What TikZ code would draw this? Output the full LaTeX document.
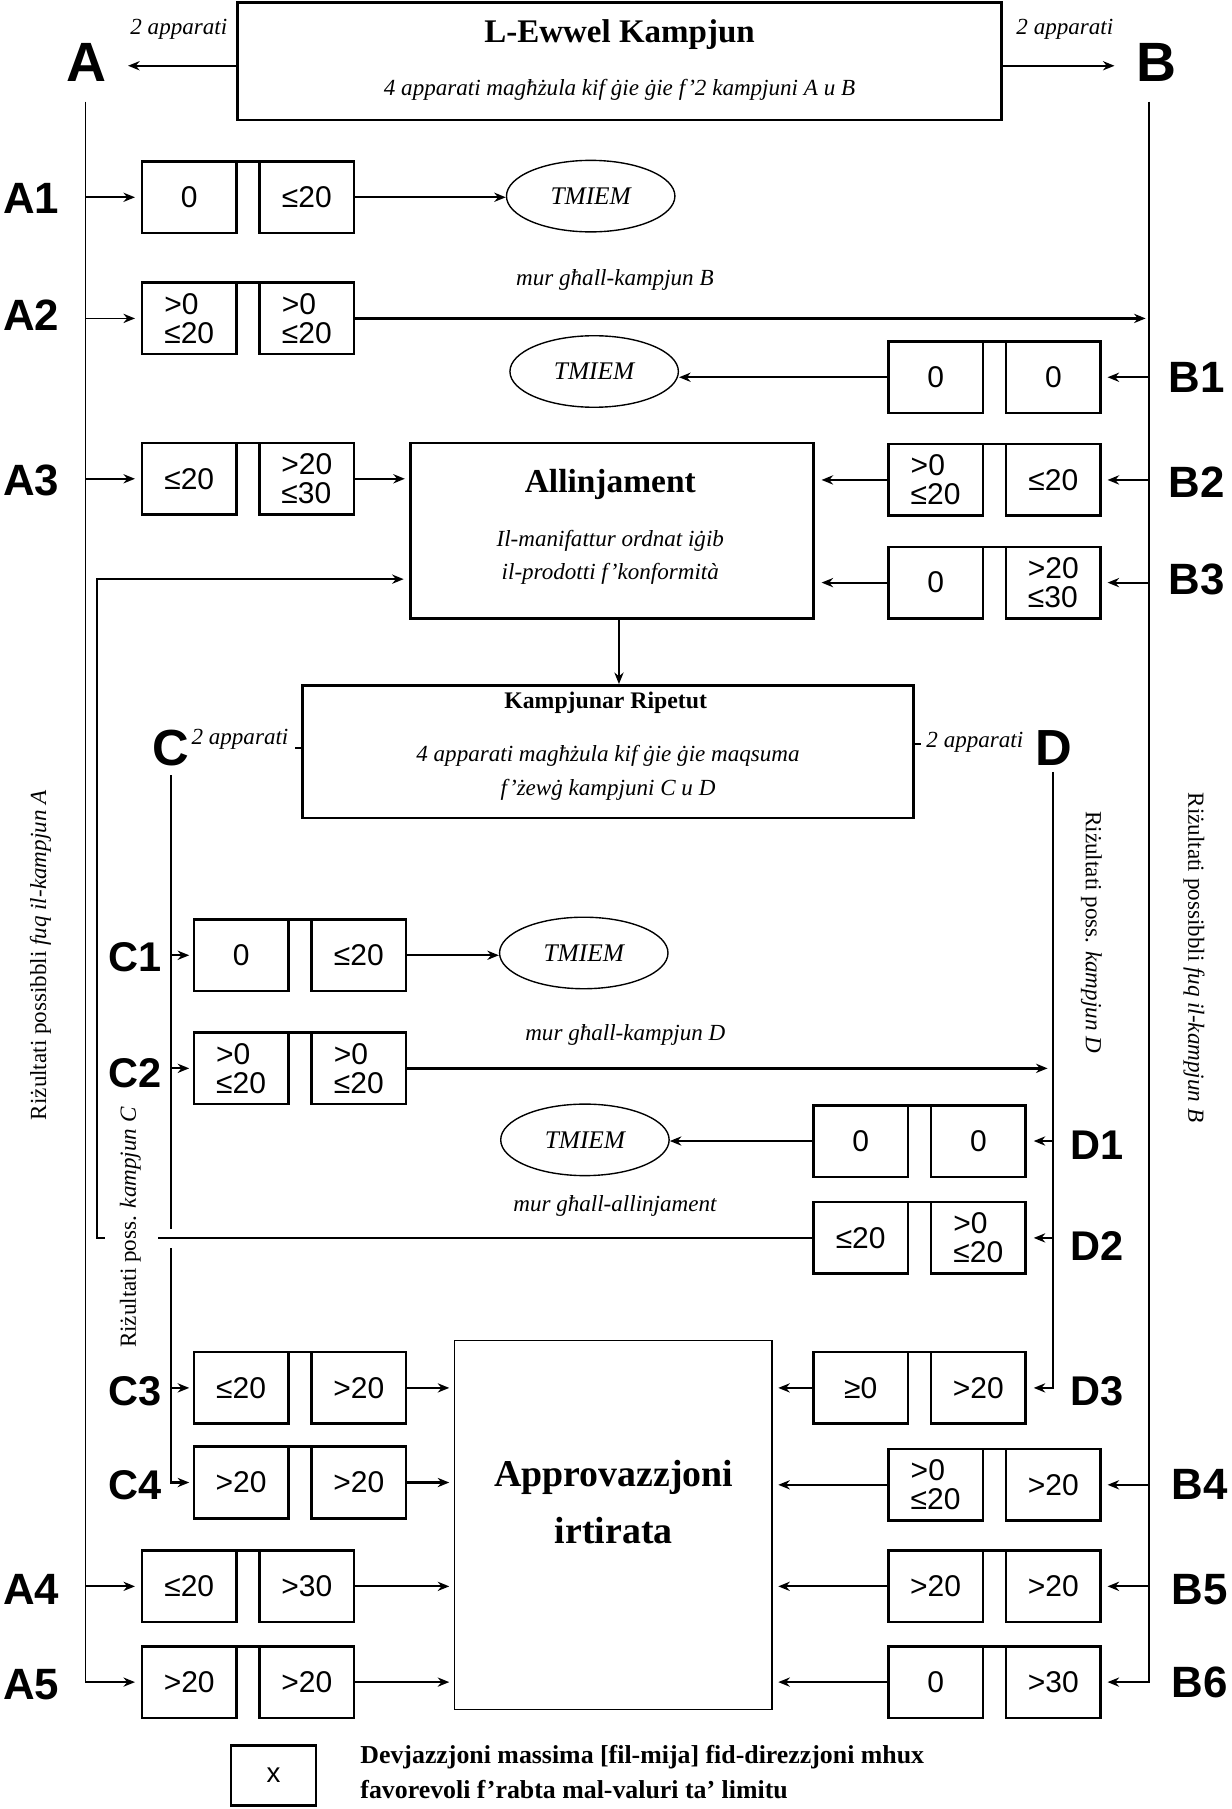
\documentclass[tikz,border=0pt]{standalone}
\usepackage{fontspec}
\setmainfont{Liberation Serif}
\setsansfont{Liberation Sans}
\usetikzlibrary{arrows.meta,shapes.geometric,calc}
\newcommand\cellpair[5]{%
  \node[cell] (#1a) at ({#2+41},#3) {#4};
  \node[cell] (#1b) at ({#2+143},#3) {#5};
  \draw[line width=1.1pt] (#1a.north east) -- (#1b.north west);
}
\begin{document}
\begin{tikzpicture}[x=0.5pt,y=-0.5pt,
  cell/.style={draw,line width=1.1pt,minimum width=41pt,minimum height=31pt,inner sep=0pt,outer sep=0pt,align=left,font=\sffamily\fontsize{13}{12.5}\selectfont},
  rowlbl/.style={font=\sffamily\bfseries\fontsize{19}{19}\selectfont,inner sep=0pt},
  cdlbl/.style={font=\sffamily\bfseries\fontsize{18}{18}\selectfont,inner sep=0pt},
  biglbl/.style={font=\sffamily\bfseries\fontsize{24}{24}\selectfont,inner sep=0pt},
  itx/.style={font=\itshape\fontsize{10}{12}\selectfont,inner sep=0pt},
  mix/.style={font=\fontsize{10}{12}\selectfont,inner sep=0pt},
  tmiem/.style={ellipse,draw,line width=0.6pt,minimum width=73pt,minimum height=31pt,inner sep=0pt,font=\itshape\fontsize{11}{11}\selectfont},
  arr/.style={-{Stealth[length=5pt,width=4pt]},line width=0.9pt},
  tarr/.style={-{Stealth[length=5pt,width=4pt]},line width=0.75pt},
  ln/.style={line width=0.9pt},
  bigbox/.style={draw,line width=1.1pt,inner sep=0pt},
]
\useasboundingbox (0,0) rectangle (1067,1568);

% top box
\node[bigbox,minimum width=331pt,minimum height=51pt] (top) at (537,53) {};
\node[font=\bfseries\fontsize{14.3}{16}\selectfont] (topT) at (537,30) {L-Ewwel Kampjun};
\node[itx] (topS) at (537,78) {4 apparati magħżula kif ġie ġie f’2 kampjuni A u B};
\node[itx] (appA) at (155,25) {2 apparati};
\node[itx] (appB) at (923,25) {2 apparati};
\node[biglbl] (labA) at (75,54) {A};
\node[biglbl] (labB) at (1002,54) {B};
\coordinate (tipL) at (111,57);
\coordinate (tipR) at (966,57);
\draw[tarr] (top.west |- tipL) -- (tipL);
\draw[tarr] (top.east |- tipR) -- (tipR);

% row labels
\node[rowlbl] (lA1) at (27,172) {A1};
\node[rowlbl] (lA2) at (27,273) {A2};
\node[rowlbl] (lA3) at (27,416) {A3};
\node[rowlbl] (lA4) at (27,1378) {A4};
\node[rowlbl] (lA5) at (27,1460) {A5};
\node[rowlbl] (lB1) at (1037,327) {B1};
\node[rowlbl] (lB2) at (1037,418) {B2};
\node[rowlbl] (lB3) at (1037,502) {B3};
\node[rowlbl] (lB4) at (1040,1287) {B4};
\node[rowlbl] (lB5) at (1040,1378) {B5};
\node[rowlbl] (lB6) at (1040,1458) {B6};
\node[cdlbl] (lC1) at (117,830) {C1};
\node[cdlbl] (lC2) at (117,930) {C2};
\node[cdlbl] (lC3) at (117,1206) {C3};
\node[cdlbl] (lC4) at (117,1287) {C4};
\node[cdlbl] (lD1) at (951,993) {D1};
\node[cdlbl] (lD2) at (951,1080) {D2};
\node[cdlbl] (lD3) at (951,1206) {D3};

% cell pairs
\cellpair{A1}{123}{171}{0}{≤20}
\cellpair{A2}{123}{276}{>0\\≤20}{>0\\≤20}
\cellpair{A3}{123}{415}{≤20}{>20\\≤30}
\cellpair{A4}{123}{1375}{≤20}{>30}
\cellpair{A5}{123}{1458}{>20}{>20}
\cellpair{B1}{770}{327}{0}{0}
\cellpair{B2}{770}{416}{>0\\≤20}{≤20}
\cellpair{B3}{770}{505}{0}{>20\\≤30}
\cellpair{B4}{770}{1287}{>0\\≤20}{>20}
\cellpair{B5}{770}{1375}{>20}{>20}
\cellpair{B6}{770}{1458}{0}{>30}
\cellpair{C1}{168}{828}{0}{≤20}
\cellpair{C2}{168}{926}{>0\\≤20}{>0\\≤20}
\cellpair{C3}{168}{1203}{≤20}{>20}
\cellpair{C4}{168}{1285}{>20}{>20}
\cellpair{D1}{705}{989}{0}{0}
\cellpair{D2}{705}{1073}{≤20}{>0\\≤20}
\cellpair{D3}{705}{1203}{≥0}{>20}

% A and B vertical lines
\coordinate (Atop) at (74,88);
\coordinate (Btop) at (996,88);
\draw[tarr] (Atop) |- ([xshift=-3pt]A5a.west);
\draw[tarr] (A1a.west -| Atop) -- ([xshift=-3pt]A1a.west);
\draw[tarr] (A2a.west -| Atop) -- ([xshift=-3pt]A2a.west);
\draw[tarr] (A3a.west -| Atop) -- ([xshift=-3pt]A3a.west);
\draw[tarr] (A4a.west -| Atop) -- ([xshift=-3pt]A4a.west);
\draw[tarr] (Btop) |- ([xshift=3pt]B6b.east);
\draw[arr] (B1b.east -| Btop) -- ([xshift=3pt]B1b.east);
\draw[arr] (B2b.east -| Btop) -- ([xshift=3pt]B2b.east);
\draw[arr] (B3b.east -| Btop) -- ([xshift=3pt]B3b.east);
\draw[arr] (B4b.east -| Btop) -- ([xshift=3pt]B4b.east);
\draw[arr] (B5b.east -| Btop) -- ([xshift=3pt]B5b.east);

% TMIEM ellipses
\node[tmiem] (E1) at (512,170) {TMIEM};
\node[tmiem] (E2) at (515,322) {TMIEM};
\node[tmiem] (E3) at (506,826) {TMIEM};
\node[tmiem] (E4) at (507,988) {TMIEM};
\draw[arr] (A1b.east) -- (A1b.east -| E1.west);
\draw[arr] (B1a.west) -- (B1a.west -| E2.east);
\draw[tarr] (C1b.east) -- (C1b.east -| E3.west);
\draw[tarr] (D1a.west) -- (D1a.west -| E4.east);

% A2 to B
\draw[arr,line width=1.2pt] (A2b.east) -- ([xshift=-1.5pt]A2b.east -| Btop);
\node[itx] (murB) at (533,243) {mur għall-kampjun B};

% Allinjament
\node[bigbox,minimum width=174.5pt,minimum height=76pt] (Allin) at (530.5,460) {};
\node[font=\bfseries\fontsize{14.5}{16}\selectfont] (AllT) at (529,420) {Allinjament};
\node[itx,font=\itshape\fontsize{10}{14.5}\selectfont,align=center] (AllS) at (529,483) {Il-manifattur ordnat iġib\\il-prodotti f’konformità};
\draw[arr] (A3b.east) -- ([xshift=-2pt]A3b.east -| Allin.west);
\draw[arr] (B2a.west) -- ([xshift=3pt]B2a.west -| Allin.east);
\draw[arr] (B3a.west) -- ([xshift=3pt]B3a.west -| Allin.east);

% Kampjunar Ripetut
\node[bigbox,minimum width=265pt,minimum height=57.5pt] (Kamp) at (527,651.5) {};
\node[font=\bfseries\fontsize{10.3}{12}\selectfont] (KampT) at (525,609) {Kampjunar Ripetut};
\node[itx,font=\itshape\fontsize{10}{14.5}\selectfont,align=center] (KampS) at (527,670) {4 apparati magħżula kif ġie ġie maqsuma\\f’żewġ kampjuni C u D};
\draw[tarr] ([xshift=3pt]Allin.south) -- ([xshift=3pt]Allin.south |- Kamp.north);

\node[font=\sffamily\bfseries\fontsize{22}{22}\selectfont,inner sep=0pt] (labC) at (148,648) {C};
\node[font=\sffamily\bfseries\fontsize{22}{22}\selectfont,inner sep=0pt] (labD) at (913,648) {D};
\node[itx] (appC) at (208,641) {2 apparati};
\node[itx] (appD) at (845,643) {2 apparati};
\coordinate (Cstub) at (256,648);
\coordinate (Dstub) at (798,645);
\draw[ln] (Kamp.west |- Cstub) -- (Cstub);
\draw[ln] (Kamp.east |- Dstub) -- (Dstub);

% C line
\coordinate (Ctop) at (148,672);
\coordinate (Cg1) at (148,1065);
\coordinate (Cg2) at (148,1082);
\draw[ln] (Ctop) -- (Cg1);
\draw[arr] (Cg2) |- ([xshift=-2pt]C4a.west);
\draw[arr] (C1a.west -| Ctop) -- ([xshift=-2pt]C1a.west);
\draw[arr] (C2a.west -| Ctop) -- ([xshift=-2pt]C2a.west);
\draw[arr] (C3a.west -| Ctop) -- ([xshift=-2pt]C3a.west);

% D line
\coordinate (Dtop) at (913,669);
\draw[tarr] (Dtop) |- ([xshift=3.5pt]D3b.east);
\draw[tarr] (D1b.east -| Dtop) -- ([xshift=3.5pt]D1b.east);
\draw[tarr] (D2b.east -| Dtop) -- ([xshift=3.5pt]D2b.east);

% C2 to D
\draw[arr,line width=1.2pt] (C2b.east) -- ([xshift=-2.5pt]C2b.east -| Dtop);
\node[itx] (murD) at (542,897) {mur għall-kampjun D};
\node[itx] (murAl) at (533,1045) {mur għall-allinjament};

% D2 back to Allinjament
\coordinate (gR) at (137,1073);
\coordinate (gL) at (91,1073);
\coordinate (crn) at (84,1073);
\draw[ln] (D2a.west) -- (D2a.west -| gR);
\draw[tarr] (gL) -- (crn) |- ([xshift=-2.5pt,yshift=-21pt]Allin.west);

% Approvazzjoni irtirata
\node[draw,line width=0.6pt,minimum width=137.5pt,minimum height=160pt] (App) at (531.5,1322) {};
\node[font=\bfseries\fontsize{16.4}{24.5}\selectfont,align=center] (AppT) at (532,1302) {Approvazzjoni\\irtirata};
\draw[tarr] (C3b.east) -- ([xshift=-2pt]C3b.east -| App.west);
\draw[arr] (C4b.east) -- ([xshift=-2pt]C4b.east -| App.west);
\draw[tarr] (A4b.east) -- ([xshift=-2pt]A4b.east -| App.west);
\draw[arr] (A5b.east) -- ([xshift=-2pt]A5b.east -| App.west);
\draw[tarr] (D3a.west) -- ([xshift=2.5pt]D3a.west -| App.east);
\draw[tarr] (B4a.west) -- ([xshift=2.5pt]B4a.west -| App.east);
\draw[tarr] (B5a.west) -- ([xshift=2.5pt]B5a.west -| App.east);
\draw[arr] (B6a.west) -- ([xshift=2.5pt]B6a.west -| App.east);

% vertical texts
\node[mix,rotate=90] (vA) at (35,828) {Riżultati possibbli \textit{fuq il-kampjun A}};
\node[mix,rotate=-90] (vB) at (1035,830) {Riżultati possibbli \textit{fuq il-kampjun B}};
\node[mix,rotate=90] (vC) at (113,1064) {Riżultati poss. \textit{kampjun C}};
\node[mix,rotate=-90] (vD) at (946,808) {Riżultati poss. \textit{kampjun D}};

% legend
\node[draw,line width=1pt,minimum width=37pt,minimum height=26pt,font=\sffamily\fontsize{12}{12}\selectfont] (legbox) at (237,1539) {x};
\node[anchor=west,align=left,inner sep=0pt,font=\bfseries\fontsize{11.2}{15.5}\selectfont] (legtxt) at (312,1536) {Devjazzjoni massima [fil-mija] fid-direzzjoni mhux\\favorevoli f’rabta mal-valuri ta’ limitu};
\end{tikzpicture}
\end{document}
